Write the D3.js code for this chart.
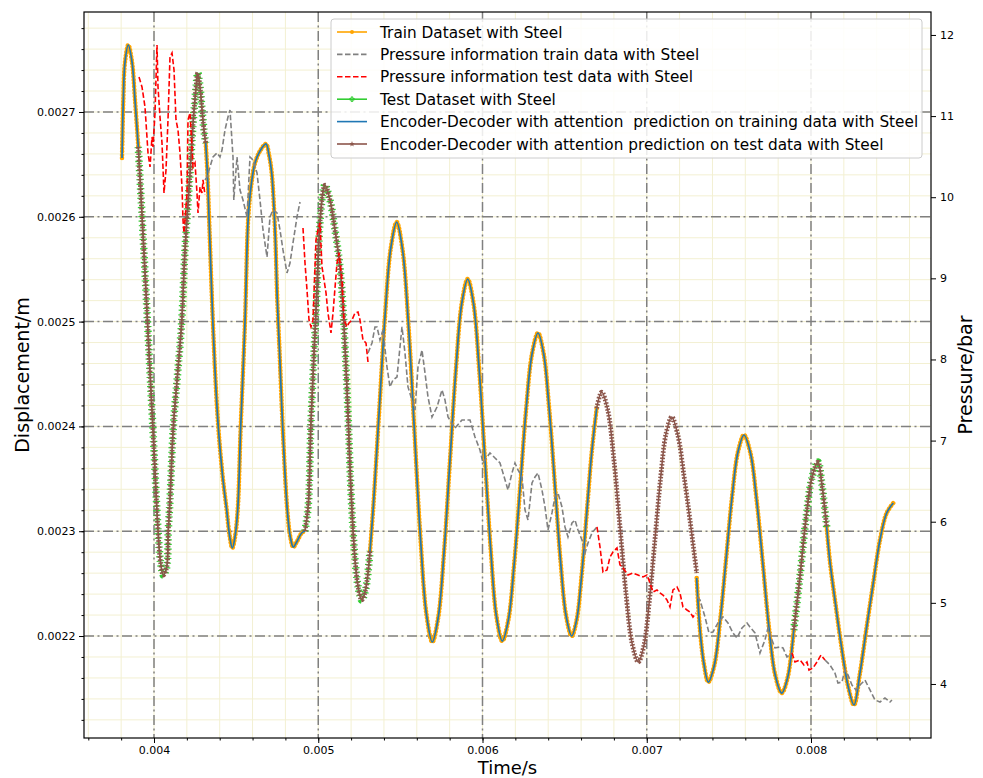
<!DOCTYPE html>
<html>
<head>
<meta charset="utf-8">
<script src="https://cdn.jsdelivr.net/npm/d3@7/dist/d3.min.js"></script>
<style>
html,body{margin:0;padding:0;background:#ffffff;}
svg text{font-family:"DejaVu Sans","Liberation Sans",sans-serif;}
</style>
</head>
<body>
<svg id="chart" width="983" height="778"></svg>
<script>
// ---------------- axis limits and tick labels ----------------
const timeLimits = [0.0035738, 0.0087306];
const dispLimits = [0.0021027, 0.0027954];
const pressLimits = [3.334, 12.283];
const timeTicks = [0.004, 0.005, 0.006, 0.007, 0.008];
const timeTickLabels = ["0.004", "0.005", "0.006", "0.007", "0.008"];
const dispTicks = [0.0022, 0.0023, 0.0024, 0.0025, 0.0026, 0.0027];
const dispTickLabels = ["0.0022", "0.0023", "0.0024", "0.0025", "0.0026", "0.0027"];
const pressTicks = [4, 5, 6, 7, 8, 9, 10, 11, 12];
const pressTickLabels = ["4", "5", "6", "7", "8", "9", "10", "11", "12"];

const seriesNames = [
  "Train Dataset with Steel",
  "Pressure information train data with Steel",
  "Pressure information test data with Steel",
  "Test Dataset with Steel",
  "Encoder-Decoder with attention  prediction on training data with Steel",
  "Encoder-Decoder with attention prediction on test data with Steel"
];

// ---------------- displacement: training segments ----------------
const trainTime = [
  [0.0038052, 0.0038131, 0.0038235, 0.0038436, 0.0038661, 0.0038843, 0.0039044],
  [0.0043148, 0.0043257, 0.0043379, 0.0043531, 0.0043714, 0.0043915, 0.0044170, 0.0044426, 0.0044596, 0.0044767,
   0.0044931, 0.0045096, 0.0045278, 0.0045540, 0.0045741, 0.0045936, 0.0046149, 0.0046453, 0.0046819, 0.0047001,
   0.0047166, 0.0047367, 0.0047506, 0.0047640, 0.0047835, 0.0048115, 0.0048298, 0.0048481, 0.0048688, 0.0048992, 0.0049193],
  [0.0053151, 0.0053357, 0.0053711, 0.0054063, 0.0054423, 0.0054776, 0.0055134, 0.0055500, 0.0055859, 0.0056219,
   0.0056584, 0.0056943, 0.0057302, 0.0057662, 0.0058020, 0.0058380, 0.0058739, 0.0059098, 0.0059451, 0.0059798,
   0.0060151, 0.0060504, 0.0060852, 0.0061205, 0.0061570, 0.0061929, 0.0062294, 0.0062653, 0.0063019, 0.0063378,
   0.0063719, 0.0064060, 0.0064407, 0.0064747, 0.0065088, 0.0065430, 0.0065734, 0.0066038, 0.0066343, 0.0066647, 0.0066952],
  [0.0073040, 0.0073241, 0.0073483, 0.0073745, 0.0074110, 0.0074470, 0.0074835, 0.0075195, 0.0075560, 0.0075919,
   0.0076303, 0.0076686, 0.0077070, 0.0077447, 0.0077831, 0.0078214, 0.0078580, 0.0078951],
  [0.0080954, 0.0081155, 0.0081459, 0.0081867, 0.0082269, 0.0082616, 0.0082982, 0.0083390, 0.0083792, 0.0084199, 0.0084607, 0.0085009]
];
const trainDisp = [
  [0.0026561, 0.0027115, 0.0027477, 0.0027639, 0.0027477, 0.0027115, 0.0026666],
  [0.0026704, 0.0026399, 0.0025874, 0.0025206, 0.0024538, 0.0023994, 0.0023536, 0.0023202, 0.0022964, 0.0022840,
   0.0022945, 0.0023202, 0.0023994, 0.0024996, 0.0025998, 0.0026323, 0.0026513, 0.0026628, 0.0026695, 0.0026590,
   0.0026418, 0.0025874, 0.0025206, 0.0024729, 0.0023994, 0.0023202, 0.0022945, 0.0022849, 0.0022897, 0.0022983, 0.0023002],
  [0.0022811, 0.0023245, 0.0024147, 0.0025049, 0.0025709, 0.0025950, 0.0025682, 0.0024949, 0.0023947, 0.0022945,
   0.0022211, 0.0021943, 0.0022175, 0.0022808, 0.0023675, 0.0024540, 0.0025175, 0.0025406, 0.0025175, 0.0024543,
   0.0023679, 0.0022816, 0.0022184, 0.0021952, 0.0022149, 0.0022687, 0.0023422, 0.0024157, 0.0024695, 0.0024891,
   0.0024698, 0.0024168, 0.0023446, 0.0022722, 0.0022194, 0.0022000, 0.0022156, 0.0022582, 0.0023164, 0.0023746, 0.0024173],
  [0.0022553, 0.0022057, 0.0021733, 0.0021561, 0.0021719, 0.0022150, 0.0022740, 0.0023328, 0.0023761, 0.0023918,
   0.0023753, 0.0023303, 0.0022687, 0.0022072, 0.0021621, 0.0021456, 0.0021604, 0.0022057],
  [0.0023040, 0.0022706, 0.0022344, 0.0021885, 0.0021513, 0.0021342, 0.0021647, 0.0022086, 0.0022506, 0.0022916, 0.0023174, 0.0023269]
];
// prediction on training data follows the training curve within a pixel
const predTrainTime = trainTime;
const predTrainDisp = trainDisp;

// ---------------- displacement: test segments ----------------
const testTime = [
  [0.0039044, 0.0039269, 0.0039513, 0.0039757, 0.0040000, 0.0040244, 0.0040396, 0.0040566, 0.0040773, 0.0040871,
   0.0040974, 0.0041175, 0.0041431, 0.0041686, 0.0041887, 0.0042192, 0.0042393, 0.0042569, 0.0042661, 0.0042800,
   0.0042941, 0.0043062, 0.0043148],
  [0.0049193, 0.0049394, 0.0049558, 0.0049893, 0.0050106, 0.0050307, 0.0050410, 0.0050715, 0.0051019, 0.0051324,
   0.0051525, 0.0051689, 0.0051829, 0.0051963, 0.0052116, 0.0052267, 0.0052438, 0.0052645, 0.0052876, 0.0053151],
  [0.0066952, 0.0067256, 0.0067627, 0.0067999, 0.0068371, 0.0068742, 0.0069113, 0.0069485, 0.0069826, 0.0070160,
   0.0070501, 0.0070842, 0.0071177, 0.0071518, 0.0071889, 0.0072260, 0.0072632, 0.0073040],
  [0.0078951, 0.0079322, 0.0079688, 0.0080059, 0.0080424, 0.0080668, 0.0080954]
];
const testDisp = [
  [0.0026666, 0.0026017, 0.0025282, 0.0024519, 0.0023775, 0.0023011, 0.0022706, 0.0022582, 0.0022658, 0.0023011,
   0.0023298, 0.0023994, 0.0024490, 0.0024996, 0.0025683, 0.0026418, 0.0026924, 0.0027248, 0.0027372, 0.0027239,
   0.0026990, 0.0026800, 0.0026704],
  [0.0023002, 0.0023250, 0.0024042, 0.0025206, 0.0025950, 0.0026256, 0.0026303, 0.0026160, 0.0025874, 0.0025521,
   0.0025082, 0.0024567, 0.0024061, 0.0023489, 0.0023011, 0.0022677, 0.0022458, 0.0022344, 0.0022439, 0.0022811],
  [0.0024173, 0.0024328, 0.0024155, 0.0023684, 0.0023040, 0.0022396, 0.0021925, 0.0021752, 0.0021908, 0.0022336,
   0.0022921, 0.0023505, 0.0023933, 0.0024090, 0.0023920, 0.0023536, 0.0023107, 0.0022601],
  [0.0022057, 0.0022558, 0.0023109, 0.0023512, 0.0023660, 0.0023441, 0.0023040]
];
// which test segments have measured (green) data visible; all have predictions
const testMeasured = [true, true, false, true];

// ---------------- pressure ----------------
const pressTrainTime = [
  [0.0043105, 0.0043227, 0.0043409, 0.0043592, 0.0043836, 0.0044018, 0.0044140, 0.0044322, 0.0044505, 0.0044627,
   0.0044810, 0.0044858, 0.0045053, 0.0045236, 0.0045418, 0.0045662, 0.0045845, 0.0046027, 0.0046271, 0.0046453,
   0.0046636, 0.0046880, 0.0047062, 0.0047245, 0.0047488, 0.0047671, 0.0047853, 0.0048097, 0.0048280, 0.0048462,
   0.0048706, 0.0048889],
  [0.0053028, 0.0053272, 0.0053454, 0.0053576, 0.0053759, 0.0053941, 0.0054185, 0.0054368, 0.0054550, 0.0054794,
   0.0055098, 0.0055281, 0.0055463, 0.0055707, 0.0055890, 0.0056072, 0.0056316, 0.0056499, 0.0056681, 0.0056925,
   0.0057229, 0.0057534, 0.0057716, 0.0057899, 0.0058325, 0.0058751, 0.0059238, 0.0059543, 0.0059847, 0.0060030,
   0.0060273, 0.0060456, 0.0060760, 0.0061065, 0.0061247, 0.0061552, 0.0061795, 0.0061978, 0.0062160, 0.0062404,
   0.0062586, 0.0062769, 0.0063013, 0.0063195, 0.0063378, 0.0063622, 0.0063804, 0.0063987, 0.0064230, 0.0064413,
   0.0064595, 0.0064839, 0.0065022, 0.0065204, 0.0065448, 0.0065631, 0.0065813, 0.0066057, 0.0066240, 0.0066422,
   0.0066666, 0.0066970],
  [0.0073057, 0.0073241, 0.0073545, 0.0073788, 0.0074032, 0.0074336, 0.0074641, 0.0074945, 0.0075250, 0.0075493,
   0.0075798, 0.0076102, 0.0076285, 0.0076589, 0.0076893, 0.0077198, 0.0077380, 0.0077624, 0.0077807, 0.0078111,
   0.0078294, 0.0078537, 0.0078842],
  [0.0080851, 0.0081155, 0.0081459, 0.0081642, 0.0081886, 0.0082068, 0.0082251, 0.0082494, 0.0082738, 0.0082982,
   0.0083286, 0.0083590, 0.0083895, 0.0084199, 0.0084503, 0.0084808, 0.0084929]
];
const pressTrain = [
  [10.213, 10.250, 10.373, 10.496, 10.545, 10.496, 10.582, 10.829, 10.989, 11.075,
   10.496, 9.966, 10.496, 10.089, 9.966, 9.757, 10.496, 10.459, 10.299, 9.966,
   9.596, 9.263, 9.757, 9.843, 9.806, 9.596, 9.350, 9.066, 9.189, 9.436,
   9.757, 9.941],
  [8.080, 8.203, 8.401, 8.401, 8.240, 8.364, 7.907, 7.661, 7.747, 7.784,
   8.401, 8.080, 7.661, 7.501, 7.377, 7.907, 8.117, 7.834, 7.538, 7.291,
   7.414, 7.624, 7.501, 7.291, 7.155, 7.254, 7.254, 7.045, 6.884, 6.724,
   6.798, 6.847, 6.786, 6.724, 6.601, 6.391, 6.601, 6.724, 6.638, 6.551,
   6.145, 6.021, 6.478, 6.551, 6.601, 6.391, 6.182, 5.898, 6.108, 6.305,
   6.354, 6.182, 5.935, 5.812, 5.984, 6.021, 5.898, 5.775, 5.615, 5.738,
   5.861, 5.935],
  [5.072, 5.035, 4.826, 4.629, 4.641, 4.752, 4.826, 4.752, 4.629, 4.567,
   4.690, 4.752, 4.702, 4.629, 4.382, 4.542, 4.690, 4.542, 4.444, 4.456,
   4.444, 4.333, 4.382],
  [4.296, 4.234, 4.135, 4.012, 4.024, 4.172, 4.111, 3.987, 3.926, 3.987,
   4.049, 3.926, 3.803, 3.778, 3.827, 3.778, 3.803]
];
const pressTestTime = [
  [0.0039087, 0.0039269, 0.0039452, 0.0039635, 0.0039757, 0.0039878, 0.0039939, 0.0040061, 0.0040183, 0.0040244,
   0.0040365, 0.0040487, 0.0040609, 0.0040731, 0.0040852, 0.0040974, 0.0041096, 0.0041218, 0.0041339, 0.0041461,
   0.0041583, 0.0041705, 0.0041766, 0.0041826, 0.0042009, 0.0042070, 0.0042192, 0.0042314, 0.0042374, 0.0042496,
   0.0042618, 0.0042679, 0.0042800, 0.0042922, 0.0042983, 0.0043105],
  [0.0049071, 0.0049193, 0.0049315, 0.0049437, 0.0049558, 0.0049680, 0.0049863, 0.0049984, 0.0050106, 0.0050228,
   0.0050289, 0.0050472, 0.0050593, 0.0050776, 0.0050898, 0.0051141, 0.0051263, 0.0051446, 0.0051567, 0.0051750,
   0.0051872, 0.0052054, 0.0052237, 0.0052420, 0.0052541, 0.0052724, 0.0052907, 0.0053028],
  [0.0066970, 0.0067153, 0.0067335, 0.0067579, 0.0067762, 0.0067944, 0.0068188, 0.0068370, 0.0068553, 0.0068857,
   0.0069162, 0.0069466, 0.0069770, 0.0070014, 0.0070197, 0.0070379, 0.0070623, 0.0070805, 0.0070988, 0.0071232,
   0.0071414, 0.0071597, 0.0071840, 0.0072023, 0.0072206, 0.0072449, 0.0072632, 0.0072814, 0.0072997],
  [0.0078842, 0.0079024, 0.0079329, 0.0079572, 0.0079755, 0.0079877, 0.0080120, 0.0080364, 0.0080607, 0.0080851]
];
const pressTest = [
  [11.482, 11.359, 11.112, 10.545, 10.373, 10.743, 10.619, 11.038, 11.877, 11.359,
   10.989, 10.669, 10.052, 10.336, 10.952, 11.729, 11.778, 11.569, 10.952, 10.829,
   10.545, 10.126, 9.720, 9.559, 10.052, 10.952, 11.038, 10.619, 10.373, 10.422,
   10.052, 9.806, 10.126, 10.052, 10.213, 10.028],
  [9.621, 9.189, 8.857, 8.487, 8.401, 8.487, 9.473, 9.596, 9.682, 9.140,
   9.066, 8.820, 8.573, 8.327, 8.573, 9.189, 9.313, 8.980, 8.487, 8.401,
   8.450, 8.487, 8.573, 8.585, 8.487, 8.240, 8.203, 7.969],
  [5.935, 5.689, 5.380, 5.405, 5.565, 5.627, 5.676, 5.467, 5.430, 5.343,
   5.368, 5.343, 5.319, 5.343, 5.245, 5.134, 5.159, 5.122, 5.097, 5.035,
   4.949, 5.159, 5.196, 5.122, 4.949, 4.912, 4.887, 4.826, 4.875],
  [4.382, 4.271, 4.296, 4.234, 4.271, 4.172, 4.197, 4.271, 4.357, 4.296]
];

// ---------------- rendering ----------------
const FONT = '"DejaVu Sans", "Liberation Sans", sans-serif';
const L = 84, R = 931, T = 12, B = 738;
const svg = d3.select("#chart");
const x = d3.scaleLinear().domain(timeLimits).range([L, R]);
const yD = d3.scaleLinear().domain(dispLimits).range([B, T]);
const yP = d3.scaleLinear().domain(pressLimits).range([B, T]);

svg.append("rect").attr("width", 983).attr("height", 778).attr("fill", "#ffffff");
svg.append("defs").append("clipPath").attr("id", "clip")
  .append("rect").attr("x", L).attr("y", T).attr("width", R - L).attr("height", B - T);

// minor grid
const grid = svg.append("g");
grid.selectAll("line.mgx").data(x.ticks(25)).join("line").attr("class", "mgx")
  .attr("x1", d => x(d)).attr("x2", d => x(d)).attr("y1", T).attr("y2", B)
  .attr("stroke", "#f3f0d2").attr("stroke-width", 1);
grid.selectAll("line.mgy").data(yD.ticks(35)).join("line").attr("class", "mgy")
  .attr("y1", d => yD(d)).attr("y2", d => yD(d)).attr("x1", L).attr("x2", R)
  .attr("stroke", "#f3f0d2").attr("stroke-width", 1);
// major grid (dash-dot)
grid.selectAll("line.Mgx").data(timeTicks).join("line").attr("class", "Mgx")
  .attr("x1", d => x(d)).attr("x2", d => x(d)).attr("y1", T).attr("y2", B)
  .attr("stroke", "#808080").attr("stroke-width", 1.5).attr("stroke-dasharray", "10,3.5,2,3.5");
grid.selectAll("line.Mgy").data(dispTicks).join("line").attr("class", "Mgy")
  .attr("y1", d => yD(d)).attr("y2", d => yD(d)).attr("x1", L).attr("x2", R)
  .attr("stroke", "#808080").attr("stroke-width", 1.5).attr("stroke-dasharray", "10,3.5,2,3.5");

const zip = (ts, vs) => ts.map((t, i) => [t, vs[i]]);
const trainSegs = trainTime.map((ts, i) => zip(ts, trainDisp[i]));
const predTrainSegs = predTrainTime.map((ts, i) => zip(ts, predTrainDisp[i]));
const testSegsAll = testTime.map((ts, i) => zip(ts, testDisp[i]));
const testSegs = testSegsAll.filter((s, i) => testMeasured[i]);
const pTrainSegs = pressTrainTime.map((ts, i) => zip(ts, pressTrain[i]));
const pTestSegs = pressTestTime.map((ts, i) => zip(ts, pressTest[i]));

const lineD = d3.line().x(d => x(d[0])).y(d => yD(d[1])).curve(d3.curveCatmullRom.alpha(0.5));
const lineP = d3.line().x(d => x(d[0])).y(d => yP(d[1]));

const plot = svg.append("g").attr("clip-path", "url(#clip)");
function draw(cls, segs, gen, style) {
  plot.selectAll("path." + cls).data(segs).join("path").attr("class", cls)
    .attr("d", gen).attr("fill", "none")
    .each(function () { const s = d3.select(this); for (const k in style) s.attr(k, style[k]); });
}
// training data: orange line with dense dot markers
draw("trainLine", trainSegs, lineD, {stroke: "#ffa500", "stroke-width": 1.8});
draw("trainDots", trainSegs, lineD, {stroke: "#ffa500", "stroke-width": 4.6, "stroke-dasharray": "0.01,3.3", "stroke-linecap": "round"});
// test data: green line with plus markers
draw("testLine", testSegs, lineD, {stroke: "#32cd32", "stroke-width": 1.5});
draw("testPlus", testSegs, lineD, {stroke: "#32cd32", "stroke-width": 7.5, "stroke-dasharray": "1.2,3.4"});
// prediction on training data
draw("predTrain", predTrainSegs, lineD, {stroke: "#1f77b4", "stroke-width": 1.7});
// prediction on test data: brown with star markers
draw("predTestLine", testSegsAll, lineD, {stroke: "#8c564b", "stroke-width": 1.6});
draw("predTestStar", testSegsAll, lineD, {stroke: "#8c564b", "stroke-width": 4.8, "stroke-dasharray": "1.6,1.6"});
// pressure (twin axis)
draw("pTrain", pTrainSegs, lineP, {stroke: "#808080", "stroke-width": 1.6, "stroke-dasharray": "5.5,2.5"});
draw("pTest", pTestSegs, lineP, {stroke: "#ff0000", "stroke-width": 1.6, "stroke-dasharray": "5.5,2.5"});

// axes
function styleAxis(g) {
  g.select(".domain").remove();
  g.attr("font-family", FONT).attr("font-size", 11);
  g.selectAll("text").attr("fill", "#000");
  g.selectAll("line").attr("stroke", "#000").attr("stroke-width", 1);
}
svg.append("g").attr("transform", `translate(${L},0)`)
  .call(d3.axisLeft(yD).tickValues(yD.ticks(35)).tickFormat("").tickSize(2.5)).call(styleAxis);
svg.append("g").attr("transform", `translate(${L},0)`)
  .call(d3.axisLeft(yD).tickValues(dispTicks).tickFormat((d, i) => dispTickLabels[i]).tickSize(5).tickPadding(3.5)).call(styleAxis);
svg.append("g").attr("transform", `translate(0,${B})`)
  .call(d3.axisBottom(x).tickValues(x.ticks(25)).tickFormat("").tickSize(2.5)).call(styleAxis);
svg.append("g").attr("transform", `translate(0,${B})`)
  .call(d3.axisBottom(x).tickValues(timeTicks).tickFormat((d, i) => timeTickLabels[i]).tickSize(5).tickPadding(3)).call(styleAxis);
svg.append("g").attr("transform", `translate(${R},0)`)
  .call(d3.axisRight(yP).tickValues(pressTicks).tickFormat((d, i) => pressTickLabels[i]).tickSize(5).tickPadding(4)).call(styleAxis);

// frame
svg.append("rect").attr("x", L).attr("y", T).attr("width", R - L).attr("height", B - T)
  .attr("fill", "none").attr("stroke", "#000").attr("stroke-width", 1.2);

// axis titles
svg.append("text").attr("transform", "translate(29,375) rotate(-90)").attr("text-anchor", "middle")
  .attr("font-size", 19).attr("font-family", FONT).text("Displacement/m");
svg.append("text").attr("x", (L + R) / 2).attr("y", 773.7).attr("text-anchor", "middle")
  .attr("font-size", 18).attr("font-family", FONT).text("Time/s");
svg.append("text").attr("transform", "translate(972,375) rotate(-90)").attr("text-anchor", "middle")
  .attr("font-size", 19).attr("font-family", FONT).text("Pressure/bar");

// legend
const leg = svg.append("g");
leg.append("rect").attr("x", 331).attr("y", 19).attr("width", 591).attr("height", 139).attr("rx", 3)
  .attr("fill", "#ffffff").attr("fill-opacity", 0.85).attr("stroke", "#cccccc").attr("stroke-width", 1);
const legStyles = [
  {stroke: "#ffa500", dash: null, marker: "dot"},
  {stroke: "#808080", dash: "5.5,2.5", marker: null},
  {stroke: "#ff0000", dash: "5.5,2.5", marker: null},
  {stroke: "#32cd32", dash: null, marker: "plus"},
  {stroke: "#1f77b4", dash: null, marker: null},
  {stroke: "#8c564b", dash: null, marker: "star"}
];
seriesNames.forEach((name, i) => {
  const cy = 32 + i * 22.4;
  const st = legStyles[i];
  const ln = leg.append("line").attr("x1", 337).attr("x2", 367).attr("y1", cy).attr("y2", cy)
    .attr("stroke", st.stroke).attr("stroke-width", 1.6);
  if (st.dash) ln.attr("stroke-dasharray", st.dash);
  if (st.marker === "dot") leg.append("circle").attr("cx", 352).attr("cy", cy).attr("r", 2).attr("fill", st.stroke);
  if (st.marker === "plus") leg.append("path").attr("d", d3.symbol(d3.symbolCross, 12)()).attr("transform", `translate(352,${cy})`)
    .attr("fill", "none").attr("stroke", st.stroke).attr("stroke-width", 1);
  if (st.marker === "star") leg.append("path").attr("d", d3.symbol(d3.symbolStar, 10)()).attr("transform", `translate(352,${cy})`)
    .attr("fill", st.stroke);
  leg.append("text").attr("x", 380).attr("y", cy + 5.5).attr("font-size", 15.3).attr("font-family", FONT)
    .style("white-space", "pre").attr("fill", "#000").text(name);
});
</script>
</body>
</html>
